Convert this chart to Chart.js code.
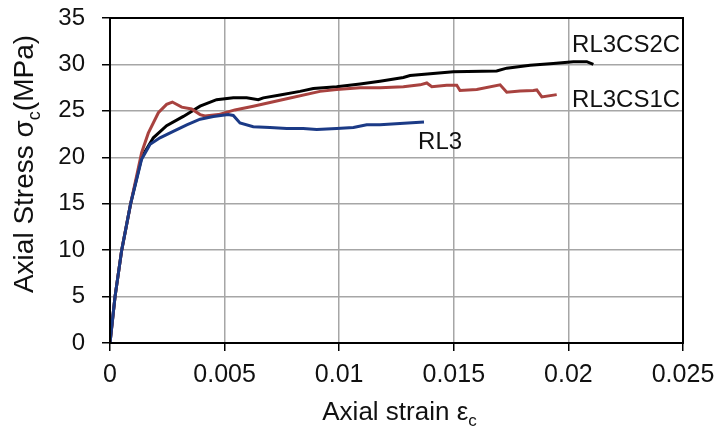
<!DOCTYPE html>
<html>
<head>
<meta charset="utf-8">
<script src="https://cdn.jsdelivr.net/npm/chart.js@4/dist/chart.umd.min.js"></script>
<style>
html,body{margin:0;padding:0;background:#fff;}
#wrap{width:720px;height:435px;}
</style>
</head>
<body>
<div id="wrap"><canvas id="c" width="720" height="435"></canvas></div>
<script>
// ---- data ----
const rl3Strain = [0, 0.00022, 0.00051, 0.0009, 0.00138, 0.00175, 0.00218, 0.00276, 0.00335, 0.00393, 0.00451, 0.00516, 0.00538, 0.00567, 0.00625, 0.00698, 0.00771, 0.00843, 0.00902, 0.00989, 0.01062, 0.0112, 0.01178, 0.01265, 0.0137];
const rl3Stress = [0, 5, 10, 15, 19.8, 21.4, 22.1, 22.8, 23.5, 24.1, 24.4, 24.6, 24.5, 23.7, 23.3, 23.2, 23.1, 23.1, 23.0, 23.1, 23.2, 23.5, 23.5, 23.65, 23.8];

const cs2cStrain = [0, 0.00022, 0.00051, 0.0009, 0.00138, 0.00189, 0.00247, 0.0032, 0.00393, 0.00465, 0.00538, 0.00596, 0.00647, 0.00669, 0.00742, 0.00829, 0.00887, 0.00989, 0.01091, 0.01178, 0.0128, 0.01309, 0.01498, 0.01687, 0.01731, 0.01833, 0.01934, 0.02022, 0.0208, 0.02109];
const cs2cStress = [0, 5, 10, 15, 20, 22.1, 23.4, 24.4, 25.5, 26.2, 26.4, 26.4, 26.2, 26.4, 26.7, 27.1, 27.4, 27.6, 27.9, 28.2, 28.6, 28.8, 29.2, 29.3, 29.6, 29.9, 30.1, 30.3, 30.3, 30.0];

const cs1cStrain = [0, 0.00022, 0.00051, 0.0009, 0.00138, 0.00167, 0.00211, 0.00247, 0.00272, 0.00313, 0.00356, 0.00393, 0.00414, 0.00473, 0.00545, 0.00625, 0.00771, 0.00916, 0.00989, 0.01091, 0.01178, 0.0128, 0.01353, 0.01382, 0.01404, 0.01469, 0.01513, 0.01527, 0.016, 0.01702, 0.01731, 0.01789, 0.01847, 0.01862, 0.01884, 0.01949];
const cs1cStress = [0, 5, 10, 15, 20.5, 22.6, 24.8, 25.7, 25.95, 25.4, 25.2, 24.6, 24.45, 24.6, 25.1, 25.5, 26.3, 27.1, 27.3, 27.5, 27.5, 27.6, 27.8, 28.0, 27.6, 27.75, 27.75, 27.2, 27.3, 27.8, 27.0, 27.15, 27.2, 27.25, 26.5, 26.75];

const seriesNames = ['RL3', 'RL3CS1C', 'RL3CS2C'];
const xTickValues = [0, 0.005, 0.01, 0.015, 0.02, 0.025];
const xTickLabels = ['0', '0.005', '0.01', '0.015', '0.02', '0.025'];
const yTickValues = [0, 5, 10, 15, 20, 25, 30, 35];
// label anchor points in data units (strain, stress)
const labelStrain = [0.01344, 0.02016, 0.02016];
const labelStress = [21.6, 26.1, 32.1];
// axis titles: [main, subscript, tail]
const xTitle = ['Axial strain ε', 'c', ''];
const yTitle = ['Axial Stress σ', 'c', '(MPa)'];

function pts(xs, ys){ return xs.map((x,i)=>({x:x, y:ys[i]})); }

const FONT = "'Liberation Sans', Arial, sans-serif";
const TXT = '#111';

const boxPlugin = {
  id: 'box',
  afterDatasetsDraw(chart){
    const {ctx, chartArea:a} = chart;
    ctx.save();
    ctx.strokeStyle = '#000';
    ctx.lineWidth = 2;
    ctx.strokeRect(a.left, a.top, a.right - a.left, a.bottom - a.top);
    ctx.restore();
  }
};

function drawSubTitle(ctx, parts, size, subSize, subDrop){
  ctx.font = size + 'px ' + FONT;
  const w0 = ctx.measureText(parts[0]).width;
  const w2 = ctx.measureText(parts[2]).width;
  ctx.font = subSize + 'px ' + FONT;
  const w1 = ctx.measureText(parts[1]).width;
  const total = w0 + w1 + w2;
  let x = -total/2;
  ctx.textAlign = 'left';
  ctx.textBaseline = 'alphabetic';
  ctx.font = size + 'px ' + FONT;
  ctx.fillText(parts[0], x, 0); x += w0;
  ctx.font = subSize + 'px ' + FONT;
  ctx.fillText(parts[1], x, subDrop); x += w1;
  ctx.font = size + 'px ' + FONT;
  ctx.fillText(parts[2], x, 0);
}

const textPlugin = {
  id: 'texts',
  afterDraw(chart){
    const {ctx, scales:{x, y}, chartArea:a} = chart;
    ctx.save();
    ctx.fillStyle = TXT;
    // curve labels
    ctx.font = '24px ' + FONT;
    ctx.textAlign = 'left';
    ctx.textBaseline = 'middle';
    seriesNames.forEach((n,i)=>{
      ctx.fillText(n, x.getPixelForValue(labelStrain[i]), y.getPixelForValue(labelStress[i]));
    });
    // x title
    ctx.save();
    ctx.translate((a.left + a.right)/2 + 3, 420);
    drawSubTitle(ctx, xTitle, 26, 17, 6);
    ctx.restore();
    // y title
    ctx.save();
    ctx.translate(33, 164);
    ctx.rotate(-Math.PI/2);
    drawSubTitle(ctx, yTitle, 28, 18, 7);
    ctx.restore();
    ctx.restore();
  }
};

new Chart(document.getElementById('c'), {
  type: 'scatter',
  data: {
    datasets: [
      {label: seriesNames[0], data: pts(rl3Strain, rl3Stress), borderColor: '#1b3a86', borderWidth: 3, showLine: true, pointRadius: 0, tension: 0},
      {label: seriesNames[1], data: pts(cs1cStrain, cs1cStress), borderColor: '#a8423f', borderWidth: 3, showLine: true, pointRadius: 0, tension: 0},
      {label: seriesNames[2], data: pts(cs2cStrain, cs2cStress), borderColor: '#000000', borderWidth: 3, showLine: true, pointRadius: 0, tension: 0}
    ]
  },
  options: {
    responsive: false,
    animation: false,
    layout: {padding: {left: 0, right: 37, top: 18, bottom: 0}},
    plugins: {legend: {display: false}, tooltip: {enabled: false}},
    scales: {
      x: {
        type: 'linear', min: 0, max: 0.025,
        afterBuildTicks(s){ s.ticks = xTickValues.map(v=>({value:v})); },
        afterFit(s){ s.height = 92; s.paddingLeft = 0; s.paddingRight = 0; },
        grid: {color: '#a6a6a6', lineWidth: 1.5, tickLength: 8, tickColor: '#000'},
        border: {color: '#000', width: 2},
        ticks: {color: TXT, font: {family: FONT, size: 25}, padding: 9, maxRotation: 0,
          callback: (v)=>{ const i = xTickValues.findIndex(t=>Math.abs(t-v)<1e-9); return i>=0 ? xTickLabels[i] : ''; }},
        title: {display: false}
      },
      y: {
        type: 'linear', min: 0, max: 35,
        afterBuildTicks(s){ s.ticks = yTickValues.map(v=>({value:v})); },
        afterFit(s){ s.width = 110; s.paddingTop = 0; s.paddingBottom = 0; },
        grid: {color: '#a6a6a6', lineWidth: 1.5, tickLength: 8, tickColor: '#000'},
        border: {color: '#000', width: 2},
        ticks: {color: TXT, font: {family: FONT, size: 24}, padding: 17},
        title: {display: false}
      }
    }
  },
  plugins: [boxPlugin, textPlugin]
});
</script>
</body>
</html>
